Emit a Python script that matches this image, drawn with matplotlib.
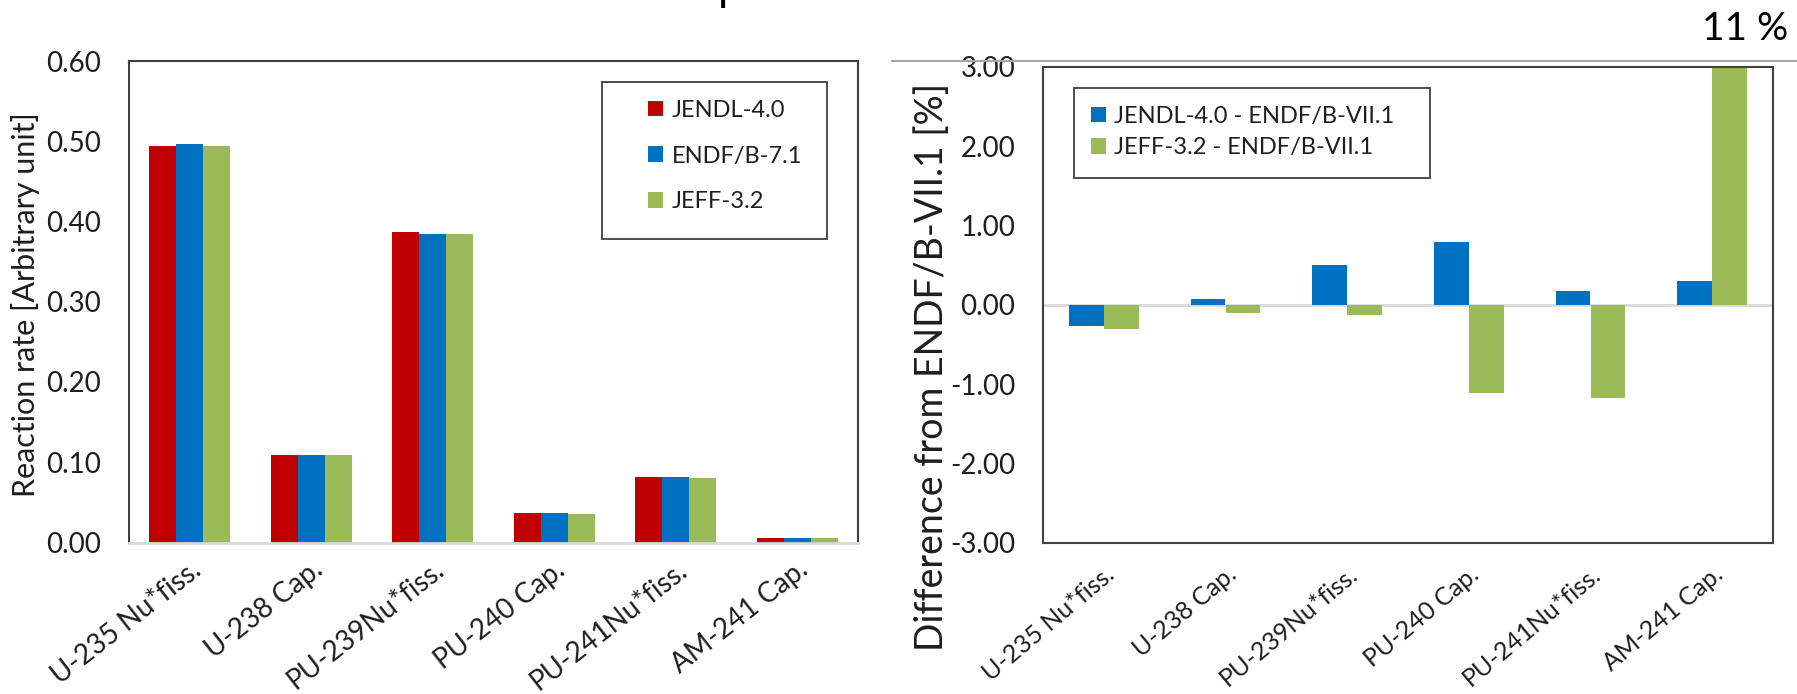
import matplotlib
matplotlib.use("Agg")
import matplotlib.pyplot as plt
import numpy as np
from matplotlib.patches import Rectangle
from matplotlib.lines import Line2D

plt.rcParams["font.family"] = ["Lato", "DejaVu Sans"]

categories = ["U-235 Nu*fiss.", "U-238 Cap.", "PU-239Nu*fiss.",
              "PU-240 Cap.", "PU-241Nu*fiss.", "AM-241 Cap."]

rate_labels = ["JENDL-4.0", "ENDF/B-7.1", "JEFF-3.2"]
rate_jendl = [0.494, 0.109, 0.387, 0.037, 0.082, 0.005]
rate_endf = [0.496, 0.109, 0.385, 0.037, 0.082, 0.005]
rate_jeff = [0.494, 0.109, 0.385, 0.035, 0.080, 0.005]

diff_labels = ["JENDL-4.0 - ENDF/B-VII.1", "JEFF-3.2 - ENDF/B-VII.1"]
diff_jendl = [-0.26, 0.08, 0.51, 0.79, 0.18, 0.30]
diff_jeff = [-0.30, -0.10, -0.13, -1.11, -1.17, 11.0]

left_ticks = [0.0, 0.1, 0.2, 0.3, 0.4, 0.5, 0.6]
right_ticks = [-3, -2, -1, 0, 1, 2, 3]

RED, BLUE, GREEN = "#C00000", "#0070C0", "#9BBB59"
TXT = "#1e1e1e"
FRAME = "#404040"
LIGHT = "#D9D9D9"

W, H = 1797, 694
fig = plt.figure(figsize=(W / 100, H / 100), dpi=100)


def px_axes(x0, y0, x1, y1):
    return fig.add_axes([x0 / W, 1 - y1 / H, (x1 - x0) / W, (y1 - y0) / H])


def legend_box(x0, y0, x1, y1):
    r = Rectangle((x0 / W, 1 - y1 / H), (x1 - x0) / W, (y1 - y0) / H,
                  transform=fig.transFigure, fill=False, edgecolor=FRAME,
                  linewidth=1.3, zorder=5)
    fig.patches.append(r)


x = np.arange(len(categories))
TICK_FS = 20

# ---- left panel: reaction rates ----
axL = px_axes(129, 61, 858, 542.5)
bw = 0.222
for k, (vals, col, lab) in enumerate(zip([rate_jendl, rate_endf, rate_jeff],
                                         [RED, BLUE, GREEN], rate_labels)):
    axL.bar(x + (k - 1) * bw, vals, width=bw, color=col, label=lab, zorder=2)
axL.set_xlim(-0.5, len(categories) - 0.5)
axL.set_ylim(0, 0.6)
axL.set_yticks(left_ticks)
axL.set_yticklabels([f"{t:.2f}" for t in left_ticks])
axL.set_xticks(x)
axL.set_xticklabels(categories, rotation=38, ha="right", rotation_mode="anchor")
axL.tick_params(axis="y", length=0, pad=20, labelsize=TICK_FS, labelcolor=TXT)
axL.tick_params(axis="x", length=0, pad=10, labelsize=TICK_FS, labelcolor=TXT)
for s in ["left", "top", "right"]:
    axL.spines[s].set_color(FRAME)
    axL.spines[s].set_linewidth(1.5)
axL.spines["bottom"].set_color(LIGHT)
axL.spines["bottom"].set_linewidth(2)
axL.set_ylabel("Reaction rate [Arbitrary unit]", fontsize=22, color=TXT)
axL.yaxis.set_label_coords(-0.122, 0.495)
legend_box(602, 82, 827, 239)
axL.legend(loc="upper left", bbox_to_anchor=((636 - 129) / 729, 1 - (88 - 61) / 481.5),
           frameon=False, fontsize=17, handlelength=0.65, handleheight=0.65,
           handletextpad=0.35, labelspacing=1.05, borderpad=0, labelcolor=TXT)

# ---- right panel: differences ----
axR = px_axes(1043, 67, 1773, 543)
bw2 = 0.285
axR.bar(x - bw2 / 2, diff_jendl, width=bw2, color=BLUE, label=diff_labels[0], zorder=2)
axR.bar(x + bw2 / 2, diff_jeff, width=bw2, color=GREEN, label=diff_labels[1], zorder=2)
axR.axhline(0, color=LIGHT, linewidth=2, zorder=1)
axR.set_xlim(-0.5, len(categories) - 0.5)
axR.set_ylim(-3, 3)
axR.set_yticks(right_ticks)
axR.set_yticklabels([f"{t:.2f}" for t in right_ticks])
axR.set_xticks(x)
axR.set_xticklabels(categories, rotation=40, ha="right", rotation_mode="anchor")
axR.tick_params(axis="y", length=0, pad=20, labelsize=TICK_FS, labelcolor=TXT)
axR.tick_params(axis="x", length=0, pad=14, labelsize=18, labelcolor=TXT)
for s in axR.spines.values():
    s.set_color(FRAME)
    s.set_linewidth(1.5)
axR.set_ylabel("Difference from ENDF/B-VII.1 [%]", fontsize=27, color=TXT)
axR.yaxis.set_label_coords(-0.128, 0.37)
legend_box(1074, 88, 1430, 178)
axR.legend(loc="upper left", bbox_to_anchor=((1079 - 1043) / 730, 1 - (94 - 67) / 476),
           frameon=False, fontsize=17, handlelength=0.65, handleheight=0.65,
           handletextpad=0.35, labelspacing=0.45, borderpad=0, labelcolor=TXT)

# off-scale value note and header rule
fig.text(1788 / W, 1 - 40 / H, "11 %", fontsize=28, color="black",
         ha="right", va="baseline")
fig.add_artist(Line2D([892 / W, 1.0], [1 - 61 / H, 1 - 61 / H],
                      transform=fig.transFigure, color="#A6A6A6", linewidth=1.5))
fig.text(718 / W, 1.0, "p", fontsize=32, color="black", ha="left", va="baseline")

fig.savefig("out.png", dpi=100, facecolor="white")
